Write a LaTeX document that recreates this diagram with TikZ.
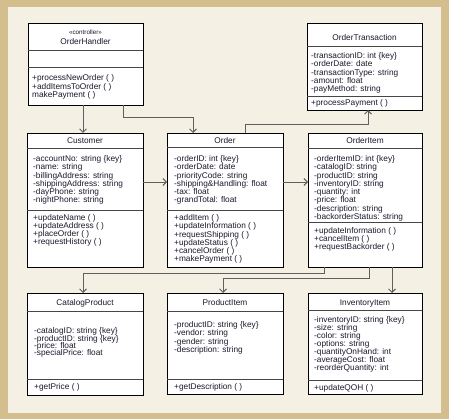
\documentclass[tikz,border=0pt]{standalone}
\usepackage{fontspec}
\setmainfont{Liberation Sans}
\usetikzlibrary{arrows.meta}
\definecolor{frametan}{RGB}{212,190,142}
\definecolor{cream}{RGB}{245,240,228}
\definecolor{conngray}{RGB}{95,95,95}
\definecolor{divgray}{RGB}{70,70,70}
\definecolor{txtc}{RGB}{25,25,45}
\newcommand\rowlist[5]{%
  \foreach \t [count=\i] in {#5} {\node[txt] (#1\i) at (#2,{#3+(\i-1)*#4+2.7}) {\t};}}
\begin{document}
\begin{tikzpicture}[x=1pt,y=-1pt,
  box/.style={draw=black,fill=white,line width=0.8pt,inner sep=0pt,outer sep=0pt,anchor=north west},
  div/.style={draw=divgray,line width=1pt},
  txt/.style={anchor=base west,inner sep=0pt,text=txtc,font=\fontsize{8.3}{8}\selectfont},
  ttl/.style={anchor=base,inner sep=0pt,text=txtc,font=\fontsize{8.3}{8}\selectfont},
  conn/.style={draw=conngray,line width=0.9pt,-{Straight Barb[length=3.5pt,width=7pt]}}]
\useasboundingbox (0,0) rectangle (449,419);
\fill[frametan] (0,0) rectangle (449,419);
\fill[cream] (8,7) rectangle (441,413);
% OrderHandler
\node[box,minimum width=115,minimum height=82] (oh) at (28,23) {};
\draw[div] (28,51) -- (143,51);
\draw[div] (28,68) -- (143,68);
\node[ttl,font=\fontsize{6.3}{6}\selectfont] (ohS) at (85.5,35) {«controller»};
\node[ttl] (ohN) at (85.5,44.7) {OrderHandler};
\rowlist{ohm}{32}{78}{8.4}{+processNewOrder ( ),+addItemsToOrder ( ),makePayment ( )}
% OrderTransaction
\node[box,minimum width=115,minimum height=87] (otr) at (307,23) {};
\draw[div] (307,47) -- (422,47);
\draw[div] (307,97) -- (422,97);
\node[ttl] (otrN) at (364.5,40.7) {OrderTransaction};
\rowlist{otra}{311}{56}{8.25}{-transactionID: int \{key\},-orderDate: date,-transactionType: string,-amount: float,-payMethod: string}
\rowlist{otrm}{311}{102.5}{8}{+processPayment ( )}
% Customer
\node[box,minimum width=116,minimum height=134] (cust) at (27,133) {};
\draw[div] (27,149) -- (143,149);
\draw[div] (27,211) -- (143,211);
\node[ttl] (custN) at (85,143.7) {Customer};
\rowlist{custa}{33}{159}{8.2}{-accountNo: string \{key\},-name: string,-billingAddress: string,-shippingAddress: string,-dayPhone: string,-nightPhone: string}
\rowlist{custm}{33}{218}{8.1}{+updateName ( ),+updateAddress ( ),+placeOrder ( ),+requestHistory ( )}
% Order
\node[box,minimum width=116,minimum height=134] (ord) at (167,133) {};
\draw[div] (167,148) -- (283,148);
\draw[div] (167,211) -- (283,211);
\node[ttl] (ordN) at (225,143.7) {Order};
\rowlist{orda}{174}{159}{8.2}{-orderID: int \{key\},-orderDate: date,-priorityCode: string,-shipping\&Handling: float,-tax: float,-grandTotal: float}
\rowlist{ordm}{174}{218}{8.2}{+addItem ( ),+updateInformation ( ),+requestShipping ( ),+updateStatus ( ),+cancelOrder ( ),+makePayment ( )}
% OrderItem
\node[box,minimum width=114,minimum height=134] (oit) at (308,133) {};
\draw[div] (308,149) -- (422,149);
\draw[div] (308,223) -- (422,223);
\node[ttl] (oitN) at (365,143.7) {OrderItem};
\rowlist{oita}{314}{159}{8.25}{-orderItemID: int \{key\},-catalogID: string,-productID: string,-inventoryID: string,-quantity: int,-price: float,-description: string,-backorderStatus: string}
\rowlist{oitm}{314}{231}{8.1}{+updateInformation ( ),+cancelItem ( ),+requestBackorder ( )}
% CatalogProduct
\node[box,minimum width=116,minimum height=102] (cat) at (27,293) {};
\draw[div] (27,311) -- (143,311);
\draw[div] (27,379) -- (143,379);
\node[ttl] (catN) at (85,305.7) {CatalogProduct};
\rowlist{cata}{34}{331}{7.3}{-catalogID: string \{key\},-productID: string \{key\},-price: float,-specialPrice: float}
\rowlist{catm}{34}{387}{8}{+getPrice ( )}
% ProductItem
\node[box,minimum width=116,minimum height=101] (pit) at (167,293) {};
\draw[div] (167,311) -- (283,311);
\draw[div] (167,379) -- (283,379);
\node[ttl] (pitN) at (225,305.7) {ProductItem};
\rowlist{pita}{174}{325}{8.2}{-productID: string \{key\},-vendor: string,-gender: string,-description: string}
\rowlist{pitm}{174}{387}{8}{+getDescription ( )}
% InventoryItem
\node[box,minimum width=114,minimum height=101] (inv) at (308,293) {};
\draw[div] (308,310) -- (422,310);
\draw[div] (308,380.5) -- (422,380.5);
\node[ttl] (invN) at (365,305) {InventoryItem};
\rowlist{inva}{314}{319.5}{8.1}{-inventoryID: string \{key\},-size: string,-color: string,-options: string,-quantityOnHand: int,-averageCost: float,-reorderQuantity: int}
\rowlist{invm}{314}{387.5}{8}{+updateQOH ( )}
% connectors
\draw[conn] ([xshift=55]oh.south west) -- ([xshift=56]cust.north west);
\draw[conn] ([xshift=95]oh.south west) -- ++(0,12) -| ([xshift=26]ord.north west);
\draw[conn] ([xshift=78]ord.north west) -- ++(0,-9) -| ([xshift=61]otr.south west);
\draw[conn] ([yshift=-49]cust.north east) -- ([yshift=-49]ord.north west);
\draw[conn] ([yshift=-49]ord.north east) -- ([yshift=-49]oit.north west);
\draw[conn] ([xshift=16]oit.south west) -- ++(0,6) -| ([xshift=56]cat.north west);
\draw[conn] ([xshift=61]oit.south west) -- ++(0,11) -| ([xshift=56]pit.north west);
\draw[conn] ([xshift=84]oit.south west) -- ([xshift=84]inv.north west);
\end{tikzpicture}
\end{document}
